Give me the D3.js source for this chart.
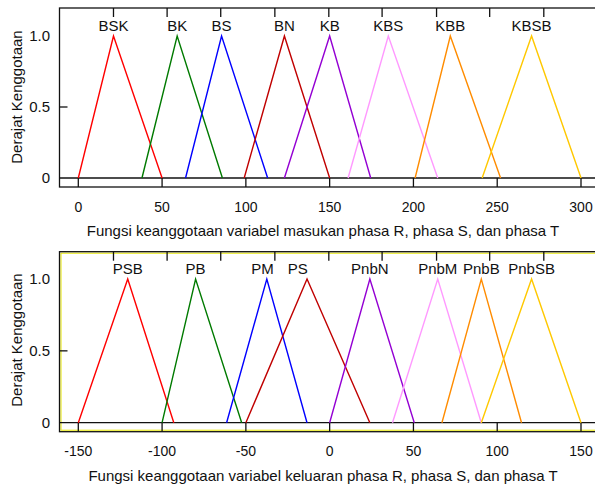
<!DOCTYPE html>
<html>
<head>
<meta charset="utf-8">
<script src="https://cdn.jsdelivr.net/npm/d3@7"></script>
<style>
  body { margin: 0; background: #fff; }
  text { font-family: "Liberation Sans", Arial, sans-serif; fill: #111; }
</style>
</head>
<body>
<div id="chart"></div>
<script>
// input membership functions (phasa R, S, T)
var inNames = ["BSK", "BK", "BS", "BN", "KB", "KBS", "KBB", "KBSB"];
var inLeft  = [0, 38, 64, 99, 123, 161, 201, 241];
var inPeak  = [21, 59, 85.5, 123, 150, 185, 222, 270.5];
var inRight = [50, 86, 113, 150, 174.5, 214.5, 252, 300];
var inLabelX = [21, 59, 85.5, 123, 150, 185, 222, 270.5];
var inTicks = [0, 50, 100, 150, 200, 250, 300];
var inTopTicks = [21, 53, 85, 117.3, 149.5, 181.3, 213.8, 245.5, 277.8];

// output membership functions
var outNames = ["PSB", "PB", "PM", "PS", "PnbN", "PnbM", "PnbB", "PnbSB"];
var outLeft  = [-150, -100, -61.5, -50, 0, 37.5, 67, 90.5];
var outPeak  = [-120.5, -80, -37.5, -13.5, 24, 64.5, 90.5, 120.5];
var outRight = [-93, -52.5, -13.5, 24, 50.5, 90.5, 114.5, 150];
var outLabelX = [-120.5, -80, -40, -19, 24, 64.5, 90.5, 120.5];
var outTicks = [-150, -100, -50, 0, 50, 100, 150];
var outTopTicks = [-129, -97, -65, -32.7, -0.5, 31.3, 63.8, 95.5, 127.8];

var yTicks = [0, 0.5, 1];
var yTickLabels = ["0", "0.5", "1.0"];
var colors = ["#ff0000", "#007a00", "#0000ff", "#c00000", "#9400d3", "#ff99ff", "#ff8c00", "#ffc800"];

var svg = d3.select("#chart").append("svg")
   .attr("width", 595)
   .attr("height", 488);

function drawPanel(p) {
  var x = d3.scaleLinear().domain(p.xDomain).range([78.3, 581]);
  var y = d3.scaleLinear().domain([0, 1]).range([p.y0, p.y1]);
  var g = svg.append("g");

  var frameLeft = 59.5, frameTop = p.top, frameBottom = p.bottom;

  if (p.yellow) {
    g.append("rect")
     .attr("x", frameLeft + 1.5).attr("y", frameTop + 1.5)
     .attr("width", 620).attr("height", frameBottom - frameTop - 3)
     .attr("fill", "none").attr("stroke", "#e8e800").attr("stroke-width", 1);
  }
  g.append("rect")
   .attr("x", frameLeft).attr("y", frameTop)
   .attr("width", 620).attr("height", frameBottom - frameTop)
   .attr("fill", "none").attr("stroke", "#111").attr("stroke-width", 1.3);

  // zero line
  g.append("line")
   .attr("x1", frameLeft).attr("x2", 620)
   .attr("y1", y(0)).attr("y2", y(0))
   .attr("stroke", "#111").attr("stroke-width", 1.3);

  // bottom ticks between zero line and frame
  g.selectAll(".xt").data(p.ticks).enter().append("line")
   .attr("x1", function(d) { return x(d); }).attr("x2", function(d) { return x(d); })
   .attr("y1", y(0)).attr("y2", frameBottom)
   .attr("stroke", "#111").attr("stroke-width", 1.3);
  g.selectAll(".xl").data(p.ticks).enter().append("text")
   .attr("x", function(d) { return x(d); })
   .attr("y", frameBottom + p.tickLabelOff)
   .attr("text-anchor", "middle")
   .style("font-size", "14px")
   .text(function(d) { return d; });

  // top ticks
  g.selectAll(".tt").data(p.topTicks).enter().append("line")
   .attr("x1", function(d) { return x(d); }).attr("x2", function(d) { return x(d); })
   .attr("y1", frameTop).attr("y2", frameTop + 9)
   .attr("stroke", "#111").attr("stroke-width", 1.3);

  // y tick at 0.5
  g.append("line")
   .attr("x1", frameLeft).attr("x2", frameLeft + 8)
   .attr("y1", y(0.5)).attr("y2", y(0.5))
   .attr("stroke", "#111").attr("stroke-width", 1.3);
  g.selectAll(".yl").data(yTicks).enter().append("text")
   .attr("x", 50)
   .attr("y", function(d) { return y(d); })
   .attr("dy", "0.36em")
   .attr("text-anchor", "end")
   .style("font-size", "15px")
   .text(function(d, i) { return yTickLabels[i]; });

  // triangles
  var line = d3.line().x(function(d) { return x(d[0]); }).y(function(d) { return y(d[1]); });
  g.selectAll(".mf").data(p.names).enter().append("path")
   .attr("d", function(d, i) {
     return line([[p.left[i], 0], [p.peak[i], 1], [p.right[i], 0]]);
   })
   .attr("fill", "none")
   .attr("stroke", function(d, i) { return colors[i]; })
   .attr("stroke-width", 1.4);

  g.selectAll(".ml").data(p.names).enter().append("text")
   .attr("x", function(d, i) { return x(p.labelX[i]); })
   .attr("y", y(1) - 5)
   .attr("text-anchor", "middle")
   .style("font-size", "15px")
   .text(function(d) { return d; });

  g.append("text")
   .attr("x", 323)
   .attr("y", p.titleY)
   .attr("text-anchor", "middle")
   .style("font-size", "15px")
   .text(p.title);

  g.append("text")
   .attr("transform", "translate(22," + p.yTitleY + ")rotate(-90)")
   .attr("text-anchor", "middle")
   .style("font-size", "15px")
   .text("Derajat Kenggotaan");
}

drawPanel({
  xDomain: [0, 300], y0: 178, y1: 36, top: 8, bottom: 187,
  names: inNames, left: inLeft, peak: inPeak, right: inRight, labelX: inLabelX,
  ticks: inTicks, topTicks: inTopTicks, tickLabelOff: 25,
  title: "Fungsi keanggotaan variabel masukan phasa R, phasa S, dan phasa T",
  titleY: 236, yTitleY: 97, yellow: false
});

drawPanel({
  xDomain: [-150, 150], y0: 422.7, y1: 279, top: 251.7, bottom: 431.7,
  names: outNames, left: outLeft, peak: outPeak, right: outRight, labelX: outLabelX,
  ticks: outTicks, topTicks: outTopTicks, tickLabelOff: 24,
  title: "Fungsi keanggotaan variabel keluaran phasa R, phasa S, dan phasa T",
  titleY: 481, yTitleY: 340, yellow: true
});
</script>
</body>
</html>
